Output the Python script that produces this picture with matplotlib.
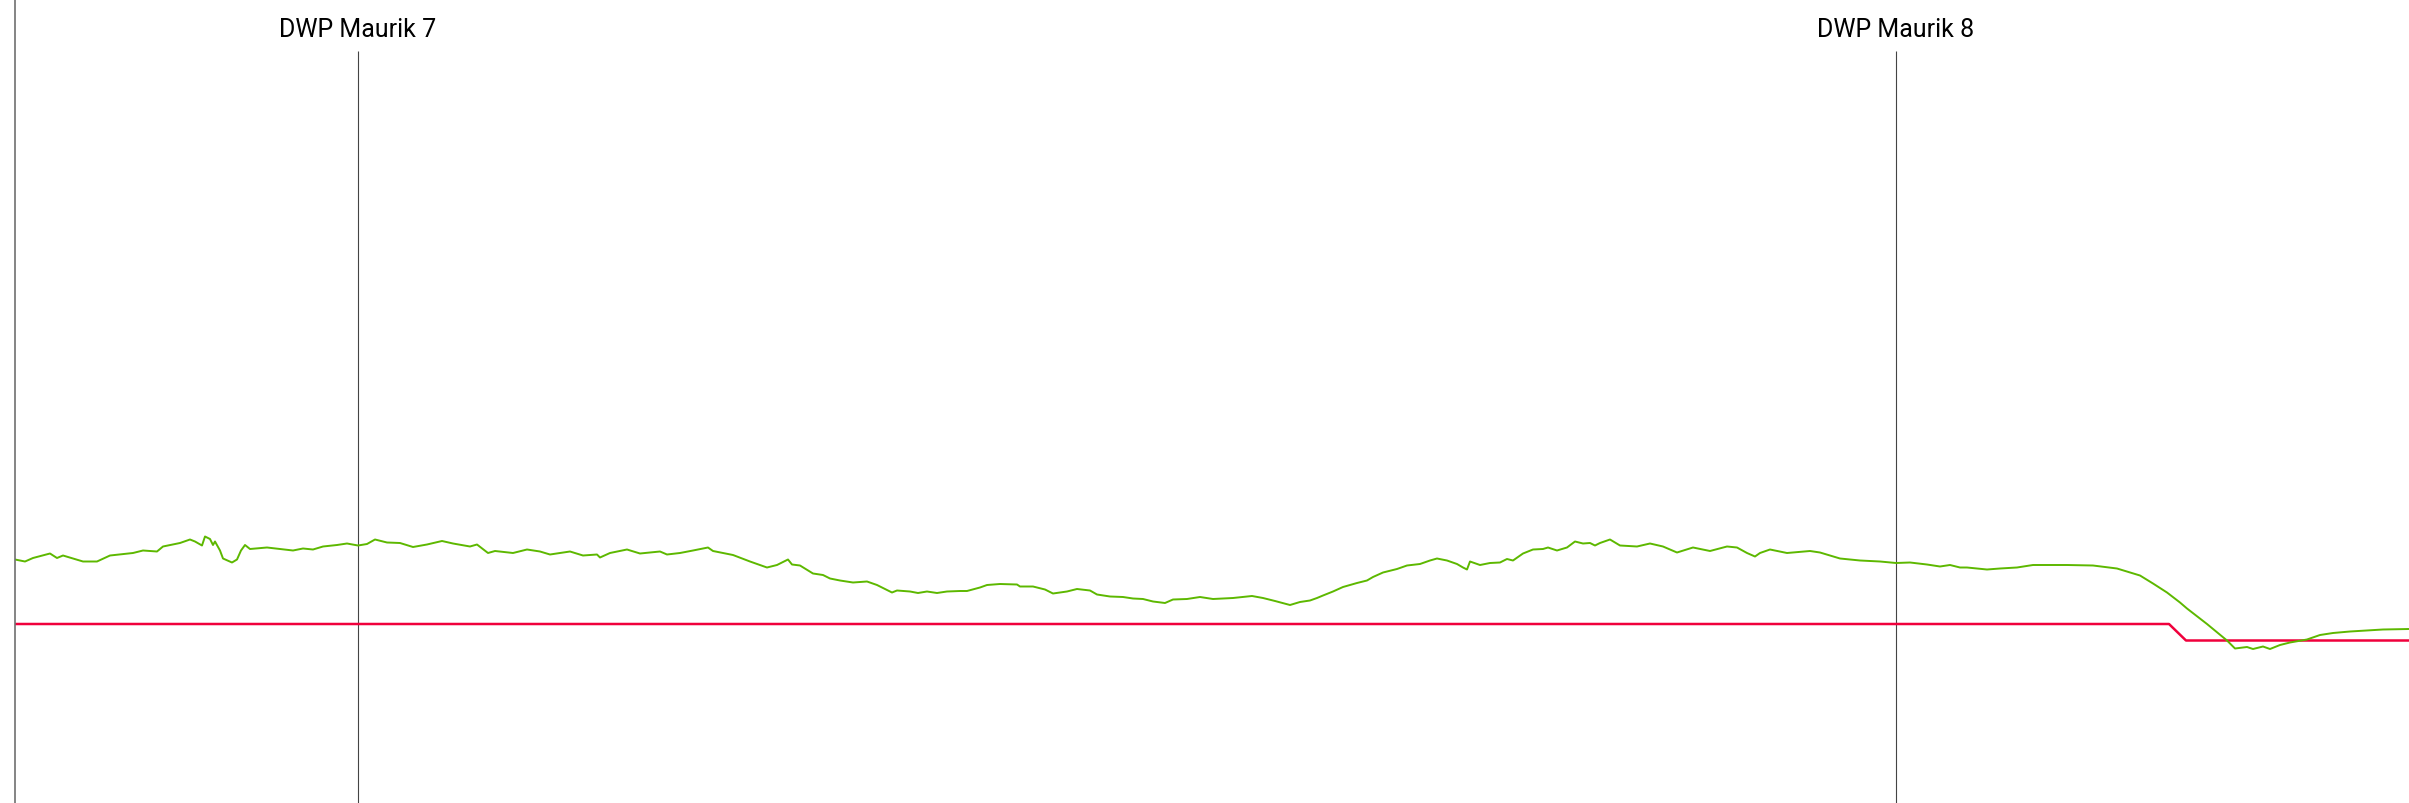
import matplotlib
matplotlib.use("Agg")
import matplotlib.pyplot as plt

# Lengteprofiel: afstand langs het trace (m) en niveau (m)
distance = [0, 10, 18, 35, 42, 48, 68, 82, 95, 118, 128, 142, 148, 165, 175, 180,
            187, 190, 195, 198, 200, 205, 208, 217, 222, 226, 230, 235, 252, 278,
            288, 298, 308, 322, 332, 343, 352, 360, 372, 385, 398, 412, 427, 438,
            455, 462, 473, 480, 498, 512, 525, 535, 548, 555, 568, 582, 585, 595,
            612, 625, 645, 652, 665, 678, 693, 698, 708, 718, 735, 752, 762, 773,
            777, 785, 798, 808, 815, 825, 838, 852, 862, 877, 882, 895, 903, 912,
            922, 932, 945, 952, 965, 972, 985, 1002, 1005, 1018, 1030, 1038, 1052,
            1062, 1075, 1082, 1095, 1108, 1118, 1128, 1138, 1150, 1158, 1172, 1185,
            1198, 1218, 1237, 1248, 1260, 1275, 1285, 1295, 1302, 1308, 1318, 1328,
            1342, 1352, 1358, 1368, 1382, 1392, 1405, 1415, 1422, 1432, 1442, 1448,
            1452, 1455, 1465, 1475, 1485, 1492, 1498, 1508, 1518, 1528, 1533, 1542,
            1552, 1560, 1568, 1575, 1580, 1585, 1595, 1605, 1622, 1635, 1648, 1662,
            1678, 1695, 1712, 1722, 1732, 1740, 1745, 1755, 1772, 1795, 1805, 1825,
            1845, 1865, 1881, 1895, 1912, 1925, 1935, 1945, 1952, 1972, 1985, 2002,
            2018, 2052, 2078, 2102, 2112, 2125, 2138, 2152, 2165, 2172, 2192, 2212,
            2220, 2232, 2238, 2248, 2255, 2265, 2275, 2292, 2305, 2318, 2335, 2352,
            2368, 2394]
level = [1.29, 1.25, 1.32, 1.41, 1.32, 1.37, 1.25, 1.25, 1.37, 1.42, 1.47, 1.45,
         1.55, 1.62, 1.69, 1.65, 1.57, 1.75, 1.70, 1.58, 1.65, 1.47, 1.31, 1.23,
         1.29, 1.47, 1.58, 1.50, 1.53, 1.47, 1.51, 1.49, 1.55, 1.58, 1.61, 1.57,
         1.60, 1.69, 1.63, 1.62, 1.54, 1.59, 1.66, 1.61, 1.55, 1.59, 1.42, 1.46,
         1.42, 1.49, 1.45, 1.39, 1.43, 1.45, 1.37, 1.39, 1.33, 1.42, 1.49, 1.41,
         1.45, 1.39, 1.42, 1.47, 1.53, 1.46, 1.42, 1.38, 1.25, 1.13, 1.18, 1.29,
         1.19, 1.17, 1.01, 0.98, 0.91, 0.87, 0.83, 0.85, 0.78, 0.63, 0.67, 0.65,
         0.62, 0.65, 0.62, 0.65, 0.66, 0.66, 0.73, 0.78, 0.80, 0.79, 0.75, 0.75,
         0.69, 0.61, 0.65, 0.70, 0.67, 0.59, 0.55, 0.54, 0.51, 0.50, 0.45, 0.42,
         0.49, 0.50, 0.54, 0.50, 0.52, 0.56, 0.52, 0.46, 0.38, 0.44, 0.47, 0.52,
         0.57, 0.65, 0.74, 0.82, 0.87, 0.94, 1.03, 1.10, 1.17, 1.20, 1.27, 1.31,
         1.27, 1.20, 1.13, 1.09, 1.25, 1.18, 1.22, 1.23, 1.30, 1.27, 1.41, 1.49,
         1.50, 1.53, 1.47, 1.53, 1.65, 1.61, 1.62, 1.57, 1.62, 1.69, 1.57, 1.55,
         1.61, 1.55, 1.43, 1.53, 1.46, 1.55, 1.53, 1.42, 1.35, 1.42, 1.49, 1.42,
         1.46, 1.43, 1.31, 1.27, 1.25, 1.22, 1.23, 1.19, 1.15, 1.18, 1.13, 1.13,
         1.09, 1.11, 1.13, 1.18, 1.18, 1.17, 1.11, 1.05, 0.97, 0.81, 0.63, 0.43,
         0.31, 0.00, -0.33, -0.49, -0.46, -0.50, -0.45, -0.50, -0.42, -0.37,
         -0.31, -0.22, -0.18, -0.15, -0.13, -0.11, -0.10]

# ontwerpniveau
design_distance = [0, 2154, 2171, 2394]
design_level = [0.0, 0.0, -0.33, -0.33]

# putten
well_names = ["DWP Maurik 7", "DWP Maurik 8"]
well_distance = [343, 1881]

W, H = 2409, 804
fig = plt.figure(figsize=(W / 100, H / 100), dpi=100)
ax = fig.add_axes([15 / W, 0, 1 - 15 / W, 1])

ax.set_xlim(0, 2394)
ax.set_ylim(-3.58, 12.5)

ax.vlines(well_distance, -3.58, 11.46, color="#444444", linewidth=0.8)
for name, x in zip(well_names, well_distance):
    ax.text(x, 11.90, name, ha="center", va="center", fontsize=18,
            family="Roboto", color="black")

ax.plot(design_distance, design_level, color="#f0003c", linewidth=1.8)
ax.plot(distance, level, color="#5db800", linewidth=1.4)

for side in ["top", "right", "bottom"]:
    ax.spines[side].set_visible(False)
ax.spines["left"].set_color("#707070")
ax.spines["left"].set_linewidth(1.2)
ax.set_xticks([])
ax.set_yticks([])

fig.savefig("out.png", dpi=100)
